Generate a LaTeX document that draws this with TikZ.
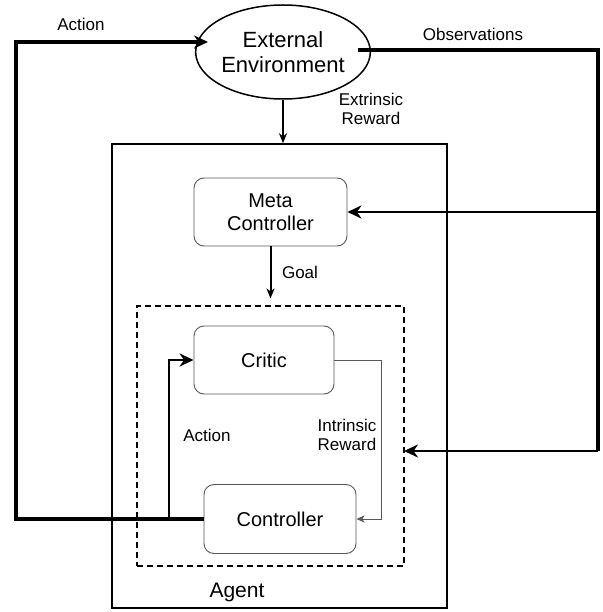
\documentclass[tikz,border=0pt]{standalone}
\usepackage{fontspec}
\setmainfont{Liberation Sans}
\usetikzlibrary{arrows.meta,shapes.geometric}
\begin{document}
\begin{tikzpicture}[x=1pt,y=-1pt,
  box/.style={draw=black!65,line width=0.9pt,rounded corners=10pt,fill=white,
    font=\fontsize{20}{23}\selectfont,align=center,inner sep=0pt},
  lbl/.style={font=\fontsize{17}{19}\selectfont,align=center,inner sep=0pt},
  heavy/.style={line width=3.4pt},
  medium/.style={line width=2.6pt},
  tip/.style={-{Stealth[length=14pt,width=13pt,inset=4.5pt]}},
  smalltip/.style={-{Stealth[length=10pt,width=8pt,inset=3pt]}}]
\useasboundingbox (0,0) rectangle (602,612);

% environment and agent boundaries
\node[ellipse,draw,line width=1.5pt,minimum width=152pt,minimum height=94pt,
  inner sep=0pt,font=\fontsize{22}{24.5}\selectfont,align=center] (env) at (283,52)
  {External\\Environment};
\node[draw,line width=1.5pt,minimum width=335pt,minimum height=464pt,inner sep=0pt]
  (agent) at (279.5,376) {};
\node[draw,dashed,line width=1.6pt,dash pattern=on 6pt off 4pt,minimum width=267pt,
  minimum height=260pt,inner sep=0pt] (inner) at (270.5,436) {};

% controller hierarchy
\node[box,minimum width=153pt,minimum height=68pt] (meta) at (270.5,212) {Meta\\Controller};
\node[box,minimum width=140pt,minimum height=68pt] (critic) at (264,360) {Critic};
\node[box,minimum width=152pt,minimum height=69pt] (ctrl) at (280,519) {Controller};

% labels
\node[lbl] (lact) at (81,24) {Action};
\node[lbl] (lobs) at (473,34) {Observations};
\node[lbl] (lext) at (371,109) {Extrinsic\\Reward};
\node[lbl] (lgoal) at (300,272) {Goal};
\node[lbl] (liact) at (207,435) {Action};
\node[lbl] (lint) at (347,435) {Intrinsic\\Reward};
\node[font=\fontsize{21}{24}\selectfont,inner sep=0pt] (lagent) at (237,592) {Agent};

% routing points
\coordinate (aleft) at (16,519);
\coordinate (abranch) at (169,519);
\coordinate (atop) at (16,42);
\coordinate (atip) at (208,42);
\coordinate (ostart) at (358,50);
\coordinate (ohead) at (598,50);
\coordinate (ometa) at (598,212);
\coordinate (olow) at (598,451);
\coordinate (ilow) at (404,451);
\coordinate (rcorner) at (381,360);

% external action loop
\draw[heavy,tip] (ctrl.west) -- (aleft) -- (atop) -- (atip);
\draw[medium,tip] (abranch) |- (critic.west);

% observations
\draw[heavy] (ostart) -- (ohead) -- (olow);
\draw[medium,tip] (olow) -- (ilow);
\draw[medium,tip] (ometa) -- (meta.east);

% rewards and goal
\draw[line width=2pt,smalltip] (env.south) -- (env.south |- agent.north);
\draw[line width=2pt,smalltip] (meta.south) -- ++(0,52);
\draw[draw=black!65,line width=1pt,-{Stealth[length=8pt,width=7pt,inset=2pt]}]
  (critic.east) -- (rcorner) |- (ctrl.east);
\end{tikzpicture}
\end{document}
